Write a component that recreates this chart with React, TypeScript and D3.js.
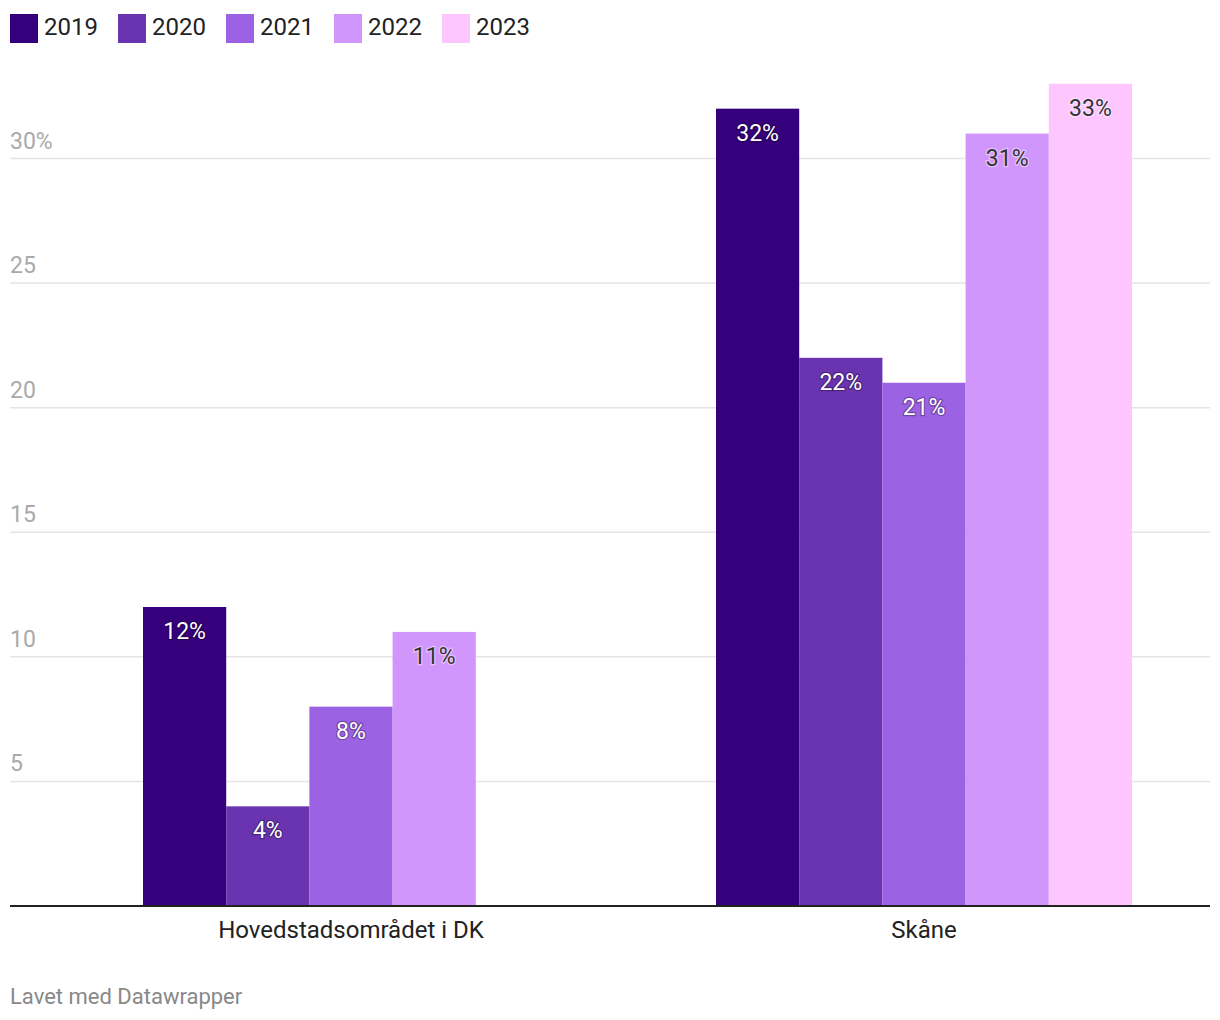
import React from "react";
import * as d3 from "d3";

const categories = ["Hovedstadsområdet i DK", "Skåne"];
const years = ["2019", "2020", "2021", "2022", "2023"];
const colors = ["#36007c", "#6a33b0", "#9b62e4", "#d196fc", "#fec6ff"];
const labelDark = [false, false, false, true, true];
const values2019 = [12, 32];
const values2020 = [4, 22];
const values2021 = [8, 21];
const values2022 = [11, 31];
const values2023 = [null, 33];
const yTicks = [5, 10, 15, 20, 25, 30];

const series = [values2019, values2020, values2021, values2022, values2023];

export default function App() {
  const W = 1220, H = 1020;
  const y = d3.scaleLinear().domain([0, 30]).range([906, 158.5]);
  const x0 = d3.scaleBand().domain(categories).range([143, 1132]).paddingInner(0.274).paddingOuter(0);
  const x1 = d3.scaleBand().domain(years).range([0, x0.bandwidth()]).padding(0);
  const font = "Roboto, 'Noto Sans', sans-serif";

  return (
    <svg width={W} height={H} style={{ display: "block", position: "absolute", left: 0, top: 0 }} fontFamily={font}>
      <rect width={W} height={H} fill="#fff" />
      {years.map((yr, i) => (
        <g key={yr} transform={`translate(${10 + i * 108},0)`}>
          <rect x={0} y={14} width={28} height={29} fill={colors[i]} />
          <text x={34} y={35} fontSize={24} fill="#222">{yr}</text>
        </g>
      ))}
      {yTicks.map((t) => (
        <g key={t}>
          <line x1={10} x2={1210} y1={y(t)} y2={y(t)} stroke="#e5e5e5" strokeWidth={1.5} />
          <text x={10} y={y(t) - 10} fontSize={23} fill="#aaaaaa">{t === 30 ? "30%" : t}</text>
        </g>
      ))}
      {categories.map((c, ci) => (
        <g key={c} transform={`translate(${x0(c)},0)`}>
          {series.map((s, si) => {
            const v = s[ci];
            if (v == null) return null;
            const bx = x1(years[si])!;
            const bw = x1.bandwidth();
            const top = y(v);
            const dark = labelDark[si];
            return (
              <g key={si}>
                <rect x={bx} y={top} width={bw} height={y(0) - top} fill={colors[si]} />
                <text
                  x={bx + bw / 2}
                  y={top + 32}
                  textAnchor="middle"
                  fontSize={23}
                  fill={dark ? "#333" : "#fff"}
                  stroke={dark ? "rgba(255,255,255,0.45)" : "rgba(0,0,0,0.3)"}
                  strokeWidth={2.5}
                  paintOrder="stroke"
                >
                  {v}%
                </text>
              </g>
            );
          })}
          <text x={x0.bandwidth() / 2} y={938} textAnchor="middle" fontSize={24} fill="#222">{c}</text>
        </g>
      ))}
      <line x1={10} x2={1210} y1={906} y2={906} stroke="#222" strokeWidth={2} />
      <text x={10} y={1004} fontSize={22} fill="#888">Lavet med Datawrapper</text>
    </svg>
  );
}
